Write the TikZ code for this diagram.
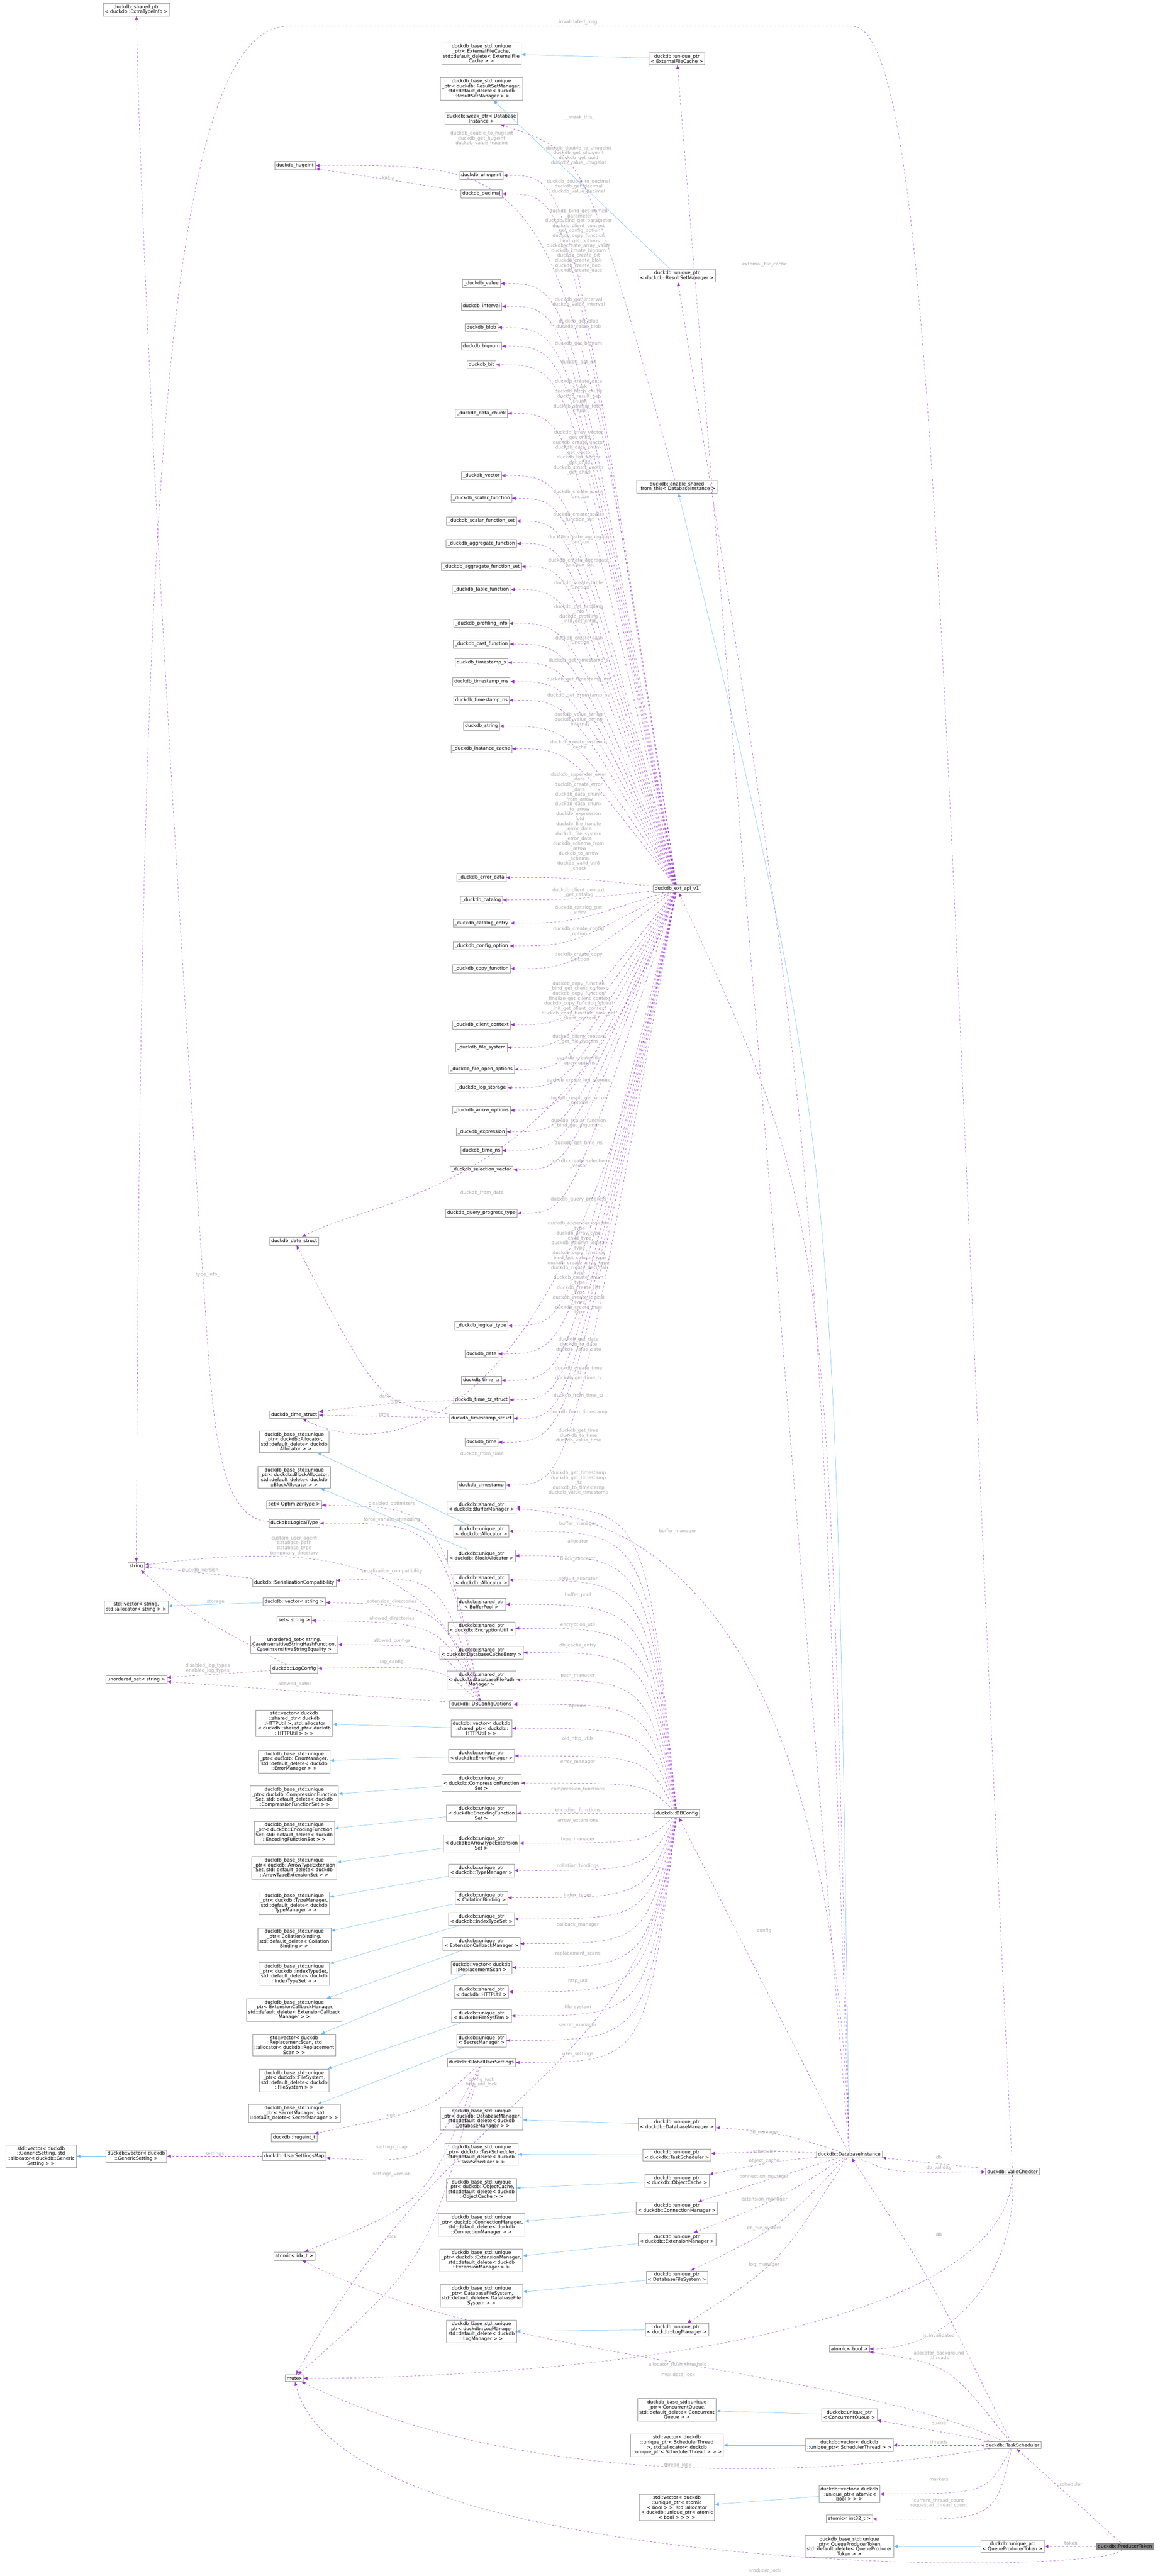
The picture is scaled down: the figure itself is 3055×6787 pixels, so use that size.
\documentclass[tikz,border=0pt]{standalone}
\usepackage{fontspec}
\setmainfont{DejaVu Sans}
\usetikzlibrary{arrows.meta}
\definecolor{usecol}{HTML}{9A32CD}
\definecolor{inhcol}{HTML}{63B8FF}
\definecolor{lblcol}{HTML}{A8A8A8}
\begin{document}
\begin{tikzpicture}[x=0.02cm,y=-0.02cm,
  box/.style={draw=black!40,fill=white,align=center,inner sep=2.5pt,font=\fontsize{7}{7.4}\selectfont},
  cur/.style={box,fill=black!45},
  use/.style={usecol,dashed,thin,-{Latex[length=6pt,width=5pt]}},
  inh/.style={inhcol,thin,-{Latex[length=6pt,width=5pt]}},
  lbl/.style={lblcol,align=center,inner sep=0pt,font=\fontsize{7}{7.4}\selectfont}]
\useasboundingbox (0,0) rectangle (3055,6787);
% far left
\node[box] (eti) at (359,25) {duckdb::shared\_ptr\\< duckdb::ExtraTypeInfo >};
\node[box] (string) at (359,4126) {string};
\node[box] (stdvstr) at (359,4234) {std::vector< string,\\ std::allocator< string > >};
\node[box] (usstr) at (359,4425) {unordered\_set< string >};
\node[box] (vgs) at (359,5681) {duckdb::vector< duckdb\\::GenericSetting >};
\node[box] (stdvgs) at (108,5681) {std::vector< duckdb\\::GenericSetting, std\\::allocator< duckdb::Generic\\Setting > >};
% second column
\node[box] (hug) at (777,436) {duckdb\_hugeint};
\node[box] (dstruct) at (775,3270) {duckdb\_date\_struct};
\node[box] (tstr) at (775,3727) {duckdb\_time\_struct};
\node[box] (ballo) at (775,3798) {duckdb\_base\_std::unique\\\_ptr< duckdb::Allocator,\\ std::default\_delete< duckdb\\::Allocator > >};
\node[box] (bblk) at (775,3892) {duckdb\_base\_std::unique\\\_ptr< duckdb::BlockAllocator,\\ std::default\_delete< duckdb\\::BlockAllocator > >};
\node[box] (setopt) at (775,3964) {set< OptimizerType >};
\node[box] (ltyp) at (775,4013) {duckdb::LogicalType};
\node[box] (sercomp) at (775,4170) {duckdb::SerializationCompatibility};
\node[box] (vstr) at (775,4220) {duckdb::vector< string >};
\node[box] (setstr) at (775,4269) {set< string >};
\node[box] (uscis) at (775,4333) {unordered\_set< string,\\ CaseInsensitiveStringHashFunction,\\ CaseInsensitiveStringEquality >};
\node[box] (logcfg) at (775,4397) {duckdb::LogConfig};
\node[box] (stdvhttp) at (775,4540) {std::vector< duckdb\\::shared\_ptr< duckdb\\::HTTPUtil >, std::allocator\\< duckdb::shared\_ptr< duckdb\\::HTTPUtil > > >};
\node[box] (berr) at (775,4641) {duckdb\_base\_std::unique\\\_ptr< duckdb::ErrorManager,\\ std::default\_delete< duckdb\\::ErrorManager > >};
\node[box] (bcomp) at (775,4735) {duckdb\_base\_std::unique\\\_ptr< duckdb::CompressionFunction\\Set, std::default\_delete< duckdb\\::CompressionFunctionSet > >};
\node[box] (benc) at (775,4828) {duckdb\_base\_std::unique\\\_ptr< duckdb::EncodingFunction\\Set, std::default\_delete< duckdb\\::EncodingFunctionSet > >};
\node[box] (barr) at (775,4921) {duckdb\_base\_std::unique\\\_ptr< duckdb::ArrowTypeExtension\\Set, std::default\_delete< duckdb\\::ArrowTypeExtensionSet > >};
\node[box] (btype) at (775,5014) {duckdb\_base\_std::unique\\\_ptr< duckdb::TypeManager,\\ std::default\_delete< duckdb\\::TypeManager > >};
\node[box] (bcoll) at (775,5109) {duckdb\_base\_std::unique\\\_ptr< CollationBinding,\\ std::default\_delete< Collation\\Binding > >};
\node[box] (bidx) at (775,5201) {duckdb\_base\_std::unique\\\_ptr< duckdb::IndexTypeSet,\\ std::default\_delete< duckdb\\::IndexTypeSet > >};
\node[box] (bcb) at (775,5295) {duckdb\_base\_std::unique\\\_ptr< ExtensionCallbackManager,\\ std::default\_delete< ExtensionCallback\\Manager > >};
\node[box] (stdvrep) at (775,5388) {std::vector< duckdb\\::ReplacementScan, std\\::allocator< duckdb::Replacement\\Scan > >};
\node[box] (bfs) at (775,5481) {duckdb\_base\_std::unique\\\_ptr< duckdb::FileSystem,\\ std::default\_delete< duckdb\\::FileSystem > >};
\node[box] (bsec) at (775,5568) {duckdb\_base\_std::unique\\\_ptr< SecretManager, std\\::default\_delete< SecretManager > >};
\node[box] (hugt) at (775,5632) {duckdb::hugeint\_t};
\node[box] (usm) at (775,5681) {duckdb::UserSettingsMap};
\node[box] (aidx) at (775,5944) {atomic< idx\_t >};
\node[box] (mutex) at (775,6266) {mutex};
% third column
\node[box] (eft) at (1268,141) {duckdb\_base\_std::unique\\\_ptr< ExternalFileCache,\\ std::default\_delete< ExternalFile\\Cache > >};
\node[box] (rsmb) at (1268,234) {duckdb\_base\_std::unique\\\_ptr< duckdb::ResultSetManager,\\ std::default\_delete< duckdb\\::ResultSetManager > >};
\node[box] (weak) at (1268,312) {duckdb::weak\_ptr< Database\\Instance >};
\node[box] (uhug) at (1268,462) {duckdb\_uhugeint};
\node[box] (dec) at (1268,511) {duckdb\_decimal};
\node[box] (val) at (1268,747) {\_duckdb\_value};
\node[box] (intv) at (1268,807) {duckdb\_interval};
\node[box] (blob) at (1268,863) {duckdb\_blob};
\node[box] (bign) at (1268,912) {duckdb\_bignum};
\node[box] (bit) at (1268,961) {duckdb\_bit};
\node[box] (chunk) at (1268,1089) {\_duckdb\_data\_chunk};
\node[box] (vec) at (1268,1253) {\_duckdb\_vector};
\node[box] (sfn) at (1268,1313) {\_duckdb\_scalar\_function};
\node[box] (sfs) at (1268,1373) {\_duckdb\_scalar\_function\_set};
\node[box] (agg) at (1268,1432) {\_duckdb\_aggregate\_function};
\node[box] (aggs) at (1268,1493) {\_duckdb\_aggregate\_function\_set};
\node[box] (tfn) at (1268,1553) {\_duckdb\_table\_function};
\node[box] (prof) at (1268,1642) {\_duckdb\_profiling\_info};
\node[box] (cast) at (1268,1697) {\_duckdb\_cast\_function};
\node[box] (tss) at (1268,1746) {duckdb\_timestamp\_s};
\node[box] (tsms) at (1268,1796) {duckdb\_timestamp\_ms};
\node[box] (tsns) at (1268,1845) {duckdb\_timestamp\_ns};
\node[box] (str) at (1268,1913) {duckdb\_string};
\node[box] (icache) at (1268,1973) {\_duckdb\_instance\_cache};
\node[box] (err) at (1268,2312) {\_duckdb\_error\_data};
\node[box] (cat) at (1268,2371) {\_duckdb\_catalog};
\node[box] (cent) at (1268,2432) {\_duckdb\_catalog\_entry};
\node[box] (copt) at (1268,2492) {\_duckdb\_config\_option};
\node[box] (cfn) at (1268,2552) {\_duckdb\_copy\_function};
\node[box] (cctx) at (1268,2700) {\_duckdb\_client\_context};
\node[box] (fsys) at (1268,2760) {\_duckdb\_file\_system};
\node[box] (fopen) at (1268,2817) {\_duckdb\_file\_open\_options};
\node[box] (logst) at (1268,2866) {\_duckdb\_log\_storage};
\node[box] (arrow) at (1268,2925) {\_duckdb\_arrow\_options};
\node[box] (expr) at (1268,2982) {\_duckdb\_expression};
\node[box] (tns) at (1268,3031) {duckdb\_time\_ns};
\node[box] (sel) at (1268,3082) {\_duckdb\_selection\_vector};
\node[box] (qpt) at (1268,3196) {duckdb\_query\_progress\_type};
\node[box] (ltype) at (1268,3493) {\_duckdb\_logical\_type};
\node[box] (date) at (1268,3567) {duckdb\_date};
\node[box] (ttz) at (1268,3637) {duckdb\_time\_tz};
\node[box] (ttzs) at (1268,3688) {duckdb\_time\_tz\_struct};
\node[box] (tsst) at (1268,3737) {duckdb\_timestamp\_struct};
\node[box] (time) at (1268,3800) {duckdb\_time};
\node[box] (tstamp) at (1268,3913) {duckdb\_timestamp};
\node[box] (sbm) at (1268,3971) {duckdb::shared\_ptr\\< duckdb::BufferManager >};
\node[box] (uall) at (1268,4034) {duckdb::unique\_ptr\\< duckdb::Allocator >};
\node[box] (ublk) at (1268,4099) {duckdb::unique\_ptr\\< duckdb::BlockAllocator >};
\node[box] (sall) at (1268,4163) {duckdb::shared\_ptr\\< duckdb::Allocator >};
\node[box] (sbp) at (1268,4227) {duckdb::shared\_ptr\\< BufferPool >};
\node[box] (senc) at (1268,4290) {duckdb::shared\_ptr\\< duckdb::EncryptionUtil >};
\node[box] (sdce) at (1268,4354) {duckdb::shared\_ptr\\< duckdb::DatabaseCacheEntry >};
\node[box] (sdfp) at (1268,4426) {duckdb::shared\_ptr\\< duckdb::DatabaseFilePath\\Manager >};
\node[box] (opts) at (1268,4490) {duckdb::DBConfigOptions};
\node[box] (vhttp) at (1268,4554) {duckdb::vector< duckdb\\::shared\_ptr< duckdb::\\HTTPUtil > >};
\node[box] (uerr) at (1268,4626) {duckdb::unique\_ptr\\< duckdb::ErrorManager >};
\node[box] (ucomp) at (1268,4698) {duckdb::unique\_ptr\\< duckdb::CompressionFunction\\Set >};
\node[box] (uenc) at (1268,4777) {duckdb::unique\_ptr\\< duckdb::EncodingFunction\\Set >};
\node[box] (uarr) at (1268,4856) {duckdb::unique\_ptr\\< duckdb::ArrowTypeExtension\\Set >};
\node[box] (utype) at (1268,4928) {duckdb::unique\_ptr\\< duckdb::TypeManager >};
\node[box] (ucoll) at (1268,5000) {duckdb::unique\_ptr\\< CollationBinding >};
\node[box] (uidx) at (1268,5056) {duckdb::unique\_ptr\\< duckdb::IndexTypeSet >};
\node[box] (ucb) at (1268,5121) {duckdb::unique\_ptr\\< ExtensionCallbackManager >};
\node[box] (vrep) at (1268,5184) {duckdb::vector< duckdb\\::ReplacementScan >};
\node[box] (shttp) at (1268,5248) {duckdb::shared\_ptr\\< duckdb::HTTPUtil >};
\node[box] (ufs) at (1268,5311) {duckdb::unique\_ptr\\< duckdb::FileSystem >};
\node[box] (usec) at (1268,5376) {duckdb::unique\_ptr\\< SecretManager >};
\node[box] (gus) at (1268,5434) {duckdb::GlobalUserSettings};
\node[box] (bdbm) at (1268,5582) {duckdb\_base\_std::unique\\\_ptr< duckdb::DatabaseManager,\\ std::default\_delete< duckdb\\::DatabaseManager > >};
\node[box] (bts) at (1268,5676) {duckdb\_base\_std::unique\\\_ptr< duckdb::TaskScheduler,\\ std::default\_delete< duckdb\\::TaskScheduler > >};
\node[box] (boc) at (1268,5769) {duckdb\_base\_std::unique\\\_ptr< duckdb::ObjectCache,\\ std::default\_delete< duckdb\\::ObjectCache > >};
\node[box] (bcm) at (1268,5862) {duckdb\_base\_std::unique\\\_ptr< duckdb::ConnectionManager,\\ std::default\_delete< duckdb\\::ConnectionManager > >};
\node[box] (bem) at (1268,5955) {duckdb\_base\_std::unique\\\_ptr< duckdb::ExtensionManager,\\ std::default\_delete< duckdb\\::ExtensionManager > >};
\node[box] (bdfs) at (1268,6049) {duckdb\_base\_std::unique\\\_ptr< DatabaseFileSystem,\\ std::default\_delete< DatabaseFile\\System > >};
\node[box] (blog) at (1268,6143) {duckdb\_base\_std::unique\\\_ptr< duckdb::LogManager,\\ std::default\_delete< duckdb\\::LogManager > >};
% fourth column
\node[box] (uefc) at (1783,155) {duckdb::unique\_ptr\\< ExternalFileCache >};
\node[box] (ursm) at (1783,726) {duckdb::unique\_ptr\\< duckdb::ResultSetManager >};
\node[box] (esft) at (1783,1282) {duckdb::enable\_shared\\\_from\_this< DatabaseInstance >};
\node[box] (api) at (1783,2341) {duckdb\_ext\_api\_v1};
\node[box] (cfg) at (1783,4778) {duckdb::DBConfig};
\node[box] (udbm) at (1783,5598) {duckdb::unique\_ptr\\< duckdb::DatabaseManager >};
\node[box] (uts) at (1783,5677) {duckdb::unique\_ptr\\< duckdb::TaskScheduler >};
\node[box] (uoc) at (1783,5745) {duckdb::unique\_ptr\\< duckdb::ObjectCache >};
\node[box] (ucm) at (1783,5818) {duckdb::unique\_ptr\\< duckdb::ConnectionManager >};
\node[box] (uem) at (1783,5900) {duckdb::unique\_ptr\\< duckdb::ExtensionManager >};
\node[box] (udfs) at (1783,6000) {duckdb::unique\_ptr\\< DatabaseFileSystem >};
\node[box] (ulog) at (1783,6138) {duckdb::unique\_ptr\\< duckdb::LogManager >};
\node[box] (bcq) at (1783,6349) {duckdb\_base\_std::unique\\\_ptr< ConcurrentQueue,\\ std::default\_delete< Concurrent\\Queue > >};
\node[box] (stdvst) at (1783,6442) {std::vector< duckdb\\::unique\_ptr< SchedulerThread\\ >, std::allocator< duckdb\\::unique\_ptr< SchedulerThread > > >};
\node[box] (stdvab) at (1783,6606) {std::vector< duckdb\\::unique\_ptr< atomic\\< bool > >, std::allocator\\< duckdb::unique\_ptr< atomic\\< bool > > > >};
% right part
\node[box] (dbi) at (2237,5676) {duckdb::DatabaseInstance};
\node[box] (abool) at (2237,6188) {atomic< bool >};
\node[box] (ucq) at (2237,6363) {duckdb::unique\_ptr\\< ConcurrentQueue >};
\node[box] (vst) at (2237,6442) {duckdb::vector< duckdb\\::unique\_ptr< SchedulerThread > >};
\node[box] (vab) at (2237,6571) {duckdb::vector< duckdb\\::unique\_ptr< atomic<\\bool > > >};
\node[box] (ai32) at (2237,6636) {atomic< int32\_t >};
\node[box] (bqpt) at (2237,6709) {duckdb\_base\_std::unique\\\_ptr< QueueProducerToken,\\ std::default\_delete< QueueProducer\\Token > >};
\node[box] (vc) at (2667,5721) {duckdb::ValidChecker};
\node[box] (ts) at (2667,6442) {duckdb::TaskScheduler};
\node[box] (uqpt) at (2667,6709) {duckdb::unique\_ptr\\< QueueProducerToken >};
\node[cur] (pt) at (2963,6709) {duckdb::ProducerToken};

% inheritance (blue)
\foreach \a/\b in {uefc/eft,ursm/rsmb,uall/ballo,ublk/bblk,vhttp/stdvhttp,uerr/berr,
  ucomp/bcomp,uenc/benc,uarr/barr,utype/btype,ucoll/bcoll,uidx/bidx,ucb/bcb,vrep/stdvrep,
  ufs/bfs,usec/bsec,vgs/stdvgs,udbm/bdbm,uts/bts,uoc/boc,ucm/bcm,uem/bem,udfs/bdfs,
  ulog/blog,ucq/bcq,vst/stdvst,vab/stdvab,uqpt/bqpt}
  \draw[inh] (\a) -- (\b);
\draw[inh] (vstr) -- node[lbl,above] {storage} (stdvstr);
\draw[inh] (dbi) .. controls (2200,3000) .. (esft);

% ext api members
\foreach \n/\y/\ly/\txt in {
  uhug/462/410/{duckdb\_double\_to\_uhugeint\\duckdb\_get\_uhugeint\\duckdb\_get\_uuid\\duckdb\_value\_uhugeint},
  dec/511/492/{duckdb\_double\_to\_decimal\\duckdb\_get\_decimal\\duckdb\_value\_decimal},
  val/747/640/{duckdb\_bind\_get\_named\\\_parameter\\duckdb\_bind\_get\_parameter\\duckdb\_client\_context\\\_get\_config\_option\\duckdb\_copy\_function\\\_bind\_get\_options\\duckdb\_create\_array\_value\\duckdb\_create\_bignum\\duckdb\_create\_bit\\duckdb\_create\_blob\\duckdb\_create\_bool\\duckdb\_create\_date\\...},
  intv/807/796/{duckdb\_get\_interval\\duckdb\_value\_interval},
  blob/863/854/{duckdb\_get\_blob\\duckdb\_value\_blob},
  bign/912/906/{duckdb\_get\_bignum},
  bit/961/955/{duckdb\_get\_bit},
  chunk/1089/1045/{duckdb\_create\_data\\\_chunk\\duckdb\_fetch\_chunk\\duckdb\_result\_get\\\_chunk\\duckdb\_stream\_fetch\\\_chunk},
  vec/1253/1193/{duckdb\_array\_vector\\\_get\_child\\duckdb\_create\_vector\\duckdb\_data\_chunk\\\_get\_vector\\duckdb\_list\_vector\\\_get\_child\\duckdb\_struct\_vector\\\_get\_child},
  sfn/1313/1303/{duckdb\_create\_scalar\\\_function},
  sfs/1373/1363/{duckdb\_create\_scalar\\\_function\_set},
  agg/1432/1423/{duckdb\_create\_aggregate\\\_function},
  aggs/1493/1483/{duckdb\_create\_aggregate\\\_function\_set},
  tfn/1553/1543/{duckdb\_create\_table\\\_function},
  prof/1642/1618/{duckdb\_get\_profiling\\\_info\\duckdb\_profiling\\\_info\_get\_child},
  cast/1697/1688/{duckdb\_create\_cast\\\_function},
  tss/1746/1740/{duckdb\_get\_timestamp\_s},
  tsms/1796/1790/{duckdb\_get\_timestamp\_ms},
  tsns/1845/1832/{duckdb\_get\_timestamp\_ns},
  str/1913/1896/{duckdb\_value\_string\\duckdb\_value\_string\\\_internal},
  icache/1973/1963/{duckdb\_create\_instance\\\_cache},
  err/2312/2170/{duckdb\_appender\_error\\\_data\\duckdb\_create\_error\\\_data\\duckdb\_data\_chunk\\\_from\_arrow\\duckdb\_data\_chunk\\\_to\_arrow\\duckdb\_expression\\\_fold\\duckdb\_file\_handle\\\_error\_data\\duckdb\_file\_system\\\_error\_data\\duckdb\_schema\_from\\\_arrow\\duckdb\_to\_arrow\\\_schema\\duckdb\_valid\_utf8\\\_check\\...},
  cat/2371/2352/{duckdb\_client\_context\\\_get\_catalog},
  cent/2432/2398/{duckdb\_catalog\_get\\\_entry},
  copt/2492/2454/{duckdb\_create\_config\\\_option},
  cfn/2552/2522/{duckdb\_create\_copy\\\_function},
  cctx/2700/2638/{duckdb\_copy\_function\\\_bind\_get\_client\_context\\duckdb\_copy\_function\\\_finalize\_get\_client\_context\\duckdb\_copy\_function\_global\\\_init\_get\_client\_context\\duckdb\_copy\_function\_sink\_get\\\_client\_context},
  fsys/2760/2738/{duckdb\_client\_context\\\_get\_file\_system},
  fopen/2817/2795/{duckdb\_create\_file\\\_open\_options},
  logst/2866/2847/{duckdb\_create\_log\_storage},
  arrow/2925/2900/{duckdb\_result\_get\_arrow\\\_options},
  expr/2982/2960/{duckdb\_scalar\_function\\\_bind\_get\_argument},
  tns/3031/3012/{duckdb\_get\_time\_ns},
  sel/3082/3066/{duckdb\_create\_selection\\\_vector},
  qpt/3196/3160/{duckdb\_query\_progress},
  ltype/3493/3346/{duckdb\_appender\_column\\\_type\\duckdb\_array\_type\\\_child\_type\\duckdb\_column\_logical\\\_type\\duckdb\_copy\_function\\\_bind\_get\_column\_type\\duckdb\_create\_array\_type\\duckdb\_create\_decimal\\\_type\\duckdb\_create\_enum\\\_type\\duckdb\_create\_list\\\_type\\duckdb\_create\_logical\\\_type\\duckdb\_create\_map\\\_type\\...},
  date/3567/3543/{duckdb\_get\_date\\duckdb\_to\_date\\duckdb\_value\_date},
  ttz/3637/3618/{duckdb\_create\_time\\\_tz\\duckdb\_get\_time\_tz},
  ttzs/3688/3677/{duckdb\_from\_time\_tz},
  tsst/3737/3721/{duckdb\_from\_timestamp},
  time/3800/3783/{duckdb\_get\_time\\duckdb\_to\_time\\duckdb\_value\_time},
  tstamp/3913/3907/{duckdb\_get\_timestamp\\duckdb\_get\_timestamp\\\_tz\\duckdb\_to\_timestamp\\duckdb\_value\_timestamp}}
{
  \draw[use] (api) .. controls (1500,\y) .. (\n);
  \node[lbl] at (1524,\ly) {\txt};
}
\draw[use] (api) .. controls (1500,400) and (1450,436) .. (hug);
\node[lbl] at (1269,365) {duckdb\_double\_to\_hugeint\\duckdb\_get\_hugeint\\duckdb\_value\_hugeint};
\draw[use] (dec) -- node[lbl,above,sloped] {value} (hug);
\draw[use] (api) .. controls (1500,3150) and (1000,3150) .. (dstruct);
\node[lbl] at (1270,3143) {duckdb\_from\_date};
\draw[use] (api) .. controls (1500,3840) and (1000,3840) .. (tstr);
\node[lbl] at (1270,3831) {duckdb\_from\_time};
\draw[use] (ttzs) .. controls (1050,3694) .. node[lbl,above] {time} (tstr);
\draw[use] (tsst) -- node[lbl,above] {time} (tstr);
\draw[use] (tsst) .. controls (1000,3700) .. node[lbl,pos=0.4,left] {date} (dstruct);

% DBConfig members
\foreach \n/\y/\ly/\txt in {
  sbm/3971/4015/buffer\_manager, uall/4034/4060/allocator, ublk/4099/4108/block\_allocator,
  sall/4163/4160/default\_allocator, sbp/4227/4203/buffer\_pool, senc/4290/4282/encryption\_util,
  sdce/4354/4335/db\_cache\_entry, sdfp/4426/4414/path\_manager, opts/4490/4495/options,
  vhttp/4554/4581/old\_http\_utils, uerr/4626/4644/error\_manager,
  ucomp/4698/4715/compression\_functions, uenc/4777/4770/encoding\_functions,
  uarr/4856/4797/arrow\_extensions, utype/4928/4846/type\_manager,
  ucoll/5000/4916/collation\_bindings, uidx/5056/4994/index\_types,
  ucb/5121/5072/callback\_manager, vrep/5184/5147/replacement\_scans,
  shttp/5248/5219/http\_util, ufs/5311/5288/file\_system, usec/5376/5336/secret\_manager,
  gus/5434/5412/user\_settings}
{
  \draw[use] (cfg) .. controls (1700,\y) .. (\n);
  \node[lbl] at (1522,\ly) {\txt};
}
\draw[use] (cfg) .. controls (1700,5490) and (1200,5480) .. (mutex);
\node[lbl] at (1268,5486) {config\_lock\\http\_util\_lock};

% DBConfigOptions members
\foreach \n/\ly/\txt in {setopt/3962/disabled\_optimizers, ltyp/4004/force\_variant\_shredding,
  sercomp/4140/serialization\_compatibility, vstr/4220/extension\_directories,
  setstr/4265/allowed\_directories, uscis/4324/allowed\_configs, logcfg/4379/log\_config}
{
  \draw[use] (opts) .. controls (1160,\ly+10) .. (\n);
  \node[lbl] at (1032,\ly) {\txt};
}
\draw[use] (opts) .. controls (1150,4080) and (800,4070) .. (string);
\node[lbl] at (775,4073) {custom\_user\_agent\\database\_path\\database\_type\\temporary\_directory};
\draw[use] (opts) -- (usstr);
\node[lbl] at (777,4438) {allowed\_paths};
\draw[use] (sercomp) -- node[lbl,above] {duckdb\_version} (string);
\draw[use] (logcfg) .. controls (500,4250) .. (string);
\draw[use] (logcfg) -- (usstr);
\node[lbl] at (547,4395) {disabled\_log\_types\\enabled\_log\_types};
\draw[use] (ltyp) .. controls (560,4000) and (560,3700) .. (530,3300)
  .. controls (430,1800) and (370,600) .. (eti);
\node[lbl] at (547,3358) {type\_info\_};

% GlobalUserSettings members
\draw[use] (gus) .. controls (1130,5560) .. (hugt);
\node[lbl] at (1032,5572) {uuid};
\draw[use] (gus) .. controls (1130,5700) .. (usm);
\node[lbl] at (1032,5658) {settings\_map};
\draw[use] (gus) .. controls (1130,5800) .. (aidx);
\node[lbl] at (1032,5729) {settings\_version};
\draw[use] (gus) .. controls (1130,5950) .. (mutex);
\node[lbl] at (1032,5892) {lock};
\draw[use] (usm) -- node[lbl,above] {settings} (vgs);

% DatabaseInstance members
\draw[use] (dbi) -- (cfg);
\node[lbl] at (2013,5087) {config};
\foreach \n/\ly/\txt in {udbm/5618/db\_manager, uts/5668/scheduler, uoc/5693/object\_cache,
  ucm/5735/connection\_manager, uem/5795/extension\_manager, udfs/5871/db\_file\_system,
  ulog/5967/log\_manager}
{
  \draw[use] (dbi) .. controls (2050,\ly) .. (\n);
  \node[lbl] at (2013,\ly) {\txt};
}
\draw[use] (dbi) .. controls (2200,4500) and (1850,4000) .. (sbm);
\node[lbl] at (1785,4034) {buffer\_manager};
\draw[use] (dbi) -- (uefc);
\node[lbl] at (2014,697) {external\_file\_cache};
\draw[use] (dbi) .. controls (2150,3000) .. (ursm);
\draw[use] (dbi) .. controls (2180,3200) .. (api);
\draw[use] (esft) .. controls (1540,400) .. (weak);
\node[lbl] at (1527,309) {\_\_weak\_this\_};

% ValidChecker and TaskScheduler
\draw[use] (vc) -- (dbi);
\node[lbl] at (2473,5683) {db};
\draw[use] (dbi) .. controls (2350,5725) .. (vc);
\node[lbl] at (2473,5712) {db\_validity};
\draw[use] (ts) .. controls (2450,6000) .. (dbi);
\node[lbl] at (2473,5887) {db};
\draw[use] (vc) .. controls (2680,6000) and (2500,6190) .. (abool);
\node[lbl] at (2473,6155) {is\_invalidated};
\draw[use] (vc) .. controls (2650,6150) and (1500,6266) .. (mutex);
\node[lbl] at (1785,6258) {invalidate\_lock};
\draw[use] (vc) .. controls (2480,2000) and (2470,69) .. (2244,69) -- (760,69)
  .. controls (420,69) and (370,1500) .. (string);
\node[lbl] at (1523,58) {invalidated\_msg};
\draw[use] (ts) .. controls (2500,6230) .. (abool);
\node[lbl] at (2473,6207) {allocator\_background\\\_threads};
\draw[use] (ts) .. controls (2200,6231) and (1300,6220) .. (aidx);
\node[lbl] at (1785,6231) {allocator\_flush\_threshold};
\draw[use] (ts) -- (ucq);
\node[lbl] at (2473,6386) {queue};
\draw[use] (ts) -- (vst);
\node[lbl] at (2473,6434) {threads};
\draw[use] (ts) .. controls (2000,6550) and (1300,6520) .. (mutex);
\node[lbl] at (1785,6495) {thread\_lock};
\draw[use] (ts) .. controls (2600,6570) .. (vab);
\node[lbl] at (2473,6532) {markers};
\draw[use] (ts) .. controls (2620,6640) .. (ai32);
\node[lbl] at (2473,6595) {current\_thread\_count\\requested\_thread\_count};
\draw[use] (pt) -- (ts);
\node[lbl] at (2821,6545) {scheduler};
\draw[use] (pt) -- (uqpt);
\node[lbl] at (2821,6700) {token};
\draw[use] (pt) .. controls (2900,6790) and (900,6790) .. (mutex);
\node[lbl] at (2014,6773) {producer\_lock};
\end{tikzpicture}
\end{document}
